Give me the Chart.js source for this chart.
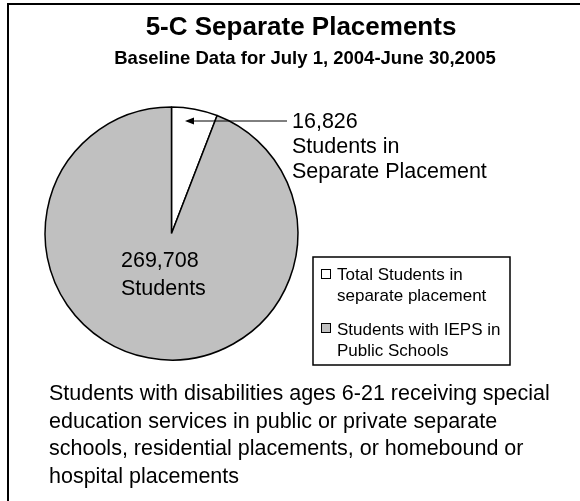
<!DOCTYPE html>
<html><head><meta charset="utf-8">
<script src="https://cdn.jsdelivr.net/npm/chart.js@4.4.1/dist/chart.umd.min.js"></script>
<style>html,body{margin:0;padding:0;background:#fff;overflow:hidden}#wrap{width:580px;height:501px;position:relative}</style>
</head><body><div id="wrap"><canvas id="c" width="580" height="501"></canvas></div>
<script>
const titleText = '5-C Separate Placements';
const subtitleText = 'Baseline Data for July 1, 2004-June 30,2005';
const categories = ['Total Students in separate placement', 'Students with IEPS in Public Schools'];
const legendLines = [['Total Students in', 'separate placement'], ['Students with IEPS in', 'Public Schools']];
const studentCounts = [16826, 269708];
const sliceLabels = [['16,826', 'Students in', 'Separate Placement'], ['269,708', 'Students']];
const footnoteLines = [
  'Students with disabilities ages 6-21 receiving special',
  'education services in public or private separate',
  'schools, residential placements, or homebound or',
  'hospital placements'
];

const FONT = '"Liberation Sans", Arial, Helvetica, sans-serif';
const sliceColors = ['#ffffff', '#c0c0c0'];

const decor = {
  id: 'decor',
  afterDraw(chart) {
    const ctx = chart.ctx;
    ctx.save();
    // frame
    ctx.strokeStyle = '#000';
    ctx.lineWidth = 2;
    ctx.beginPath();
    ctx.moveTo(8, 510); ctx.lineTo(8, 4); ctx.lineTo(590, 4);
    ctx.stroke();
    // titles
    ctx.fillStyle = '#000';
    ctx.textAlign = 'center';
    ctx.textBaseline = 'alphabetic';
    ctx.font = 'bold 26px ' + FONT;
    ctx.fillText(titleText, 301, 35);
    ctx.font = 'bold 18.5px ' + FONT;
    ctx.fillText(subtitleText, 305, 64);
    // slice labels
    ctx.textAlign = 'left';
    ctx.font = '21.5px ' + FONT;
    const lp = [{x: 292, y: 128, dy: 25}, {x: 121, y: 267, dy: 28}];
    sliceLabels.forEach((lines, i) => {
      lines.forEach((t, j) => ctx.fillText(t, lp[i].x, lp[i].y + j * lp[i].dy));
    });
    // arrow to the small slice
    const meta = chart.getDatasetMeta(0);
    const arc = meta.data[0];
    const ay = 121;
    const tipX = arc.x + 13.5;
    ctx.lineWidth = 1;
    ctx.beginPath();
    ctx.moveTo(287, ay); ctx.lineTo(tipX + 6, ay);
    ctx.stroke();
    ctx.beginPath();
    ctx.moveTo(tipX, ay); ctx.lineTo(tipX + 9, ay - 3.5); ctx.lineTo(tipX + 9, ay + 3.5); ctx.closePath();
    ctx.fill();
    // legend
    ctx.lineWidth = 1.5;
    ctx.strokeRect(313, 257, 197, 108);
    ctx.font = '17px ' + FONT;
    const rows = [{sq: 269, y: [280, 301]}, {sq: 323, y: [335, 356]}];
    categories.forEach((c, i) => {
      ctx.fillStyle = sliceColors[i];
      ctx.fillRect(321, rows[i].sq, 9, 9);
      ctx.lineWidth = 1;
      ctx.strokeRect(321.5, rows[i].sq + 0.5, 9, 9);
      ctx.fillStyle = '#000';
      legendLines[i].forEach((t, j) => ctx.fillText(t, 337, rows[i].y[j]));
    });
    // footnote
    ctx.font = '21.5px ' + FONT;
    footnoteLines.forEach((t, i) => ctx.fillText(t, 49, 400 + i * 27.5));
    ctx.restore();
  }
};

new Chart(document.getElementById('c'), {
  type: 'pie',
  data: {
    labels: categories,
    datasets: [{
      data: studentCounts,
      backgroundColor: sliceColors,
      borderColor: '#000',
      borderWidth: 1.5
    }]
  },
  options: {
    responsive: false,
    animation: false,
    events: [],
    rotation: 0,
    layout: {padding: {left: 44.25, top: 106.25, right: 281.25, bottom: 140.25}},
    plugins: {legend: {display: false}, tooltip: {enabled: false}, title: {display: false}}
  },
  plugins: [decor]
});
</script>
</body></html>
